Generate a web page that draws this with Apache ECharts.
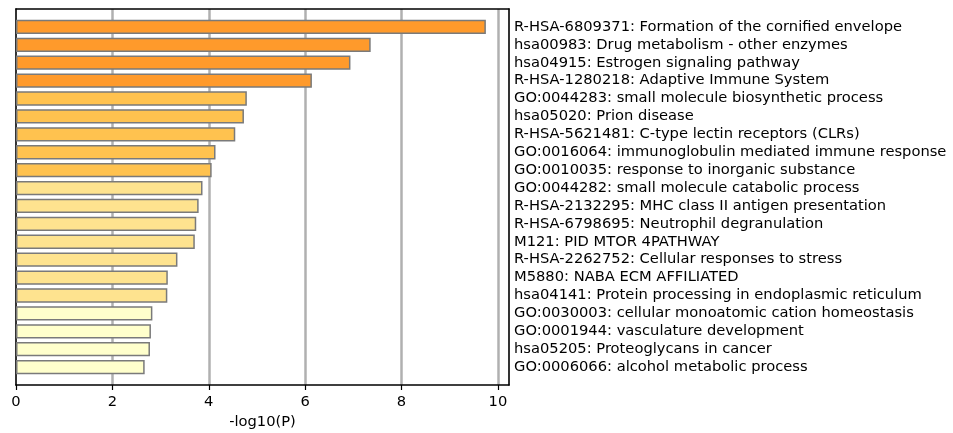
<!DOCTYPE html>
<html>
<head>
<meta charset="utf-8">
<script src="https://cdn.jsdelivr.net/npm/echarts@6/dist/echarts.min.js"></script>
<style>
html,body{margin:0;padding:0;background:#fff;}
#chart{width:953px;height:433px;}
</style>
</head>
<body>
<div id="chart"></div>
<script>
const terms = [
  "R-HSA-6809371: Formation of the cornified envelope",
  "hsa00983: Drug metabolism - other enzymes",
  "hsa04915: Estrogen signaling pathway",
  "R-HSA-1280218: Adaptive Immune System",
  "GO:0044283: small molecule biosynthetic process",
  "hsa05020: Prion disease",
  "R-HSA-5621481: C-type lectin receptors (CLRs)",
  "GO:0016064: immunoglobulin mediated immune response",
  "GO:0010035: response to inorganic substance",
  "GO:0044282: small molecule catabolic process",
  "R-HSA-2132295: MHC class II antigen presentation",
  "R-HSA-6798695: Neutrophil degranulation",
  "M121: PID MTOR 4PATHWAY",
  "R-HSA-2262752: Cellular responses to stress",
  "M5880: NABA ECM AFFILIATED",
  "hsa04141: Protein processing in endoplasmic reticulum",
  "GO:0030003: cellular monoatomic cation homeostasis",
  "GO:0001944: vasculature development",
  "hsa05205: Proteoglycans in cancer",
  "GO:0006066: alcohol metabolic process"
];
const logP = [9.75, 7.36, 6.94, 6.14, 4.79, 4.73, 4.55, 4.14, 4.06, 3.87,
              3.79, 3.74, 3.71, 3.35, 3.15, 3.14, 2.83, 2.80, 2.78, 2.67];
const tier = [0,0,0,0,1,1,1,1,1,2,2,2,2,2,2,2,3,3,3,3];
const xTicks = [0, 2, 4, 6, 8, 10];

const palette = ['#FF9A2B', '#FFC24F', '#FEE38F', '#FFFFCC'];
const FONT = 'DejaVu Sans';
const FS = 14.7;

const chart = echarts.init(document.getElementById('chart'), null, {renderer: 'canvas'});

// pad one empty slot at each end, as the reference leaves one bar-step of space
const cats = [''].concat(terms, ['']);
const barData = ['-'].concat(logP.map((v, i) => ({
  value: v,
  itemStyle: {color: palette[tier[i]]}
})), ['-']);

const yBase = {
  type: 'category', data: cats, boundaryGap: false, inverse: true,
  splitLine: {show: false}, axisTick: {show: false},
  axisLine: {show: true, onZero: false, lineStyle: {color: '#000', width: 1.6}}
};

chart.setOption({
  animation: false,
  backgroundColor: '#fff',
  grid: {left: 16, right: 444, top: 9, bottom: 48, containLabel: false, outerBoundsMode: 'none'},
  xAxis: [{
    type: 'value', min: 0, max: 10.23, interval: 2,
    name: '-log10(P)', nameLocation: 'middle', nameGap: 30,
    nameTextStyle: {fontFamily: FONT, fontSize: FS, color: '#000'},
    axisLine: {show: true, onZero: false, lineStyle: {color: '#000', width: 1.6}},
    axisTick: {show: true, length: 5, lineStyle: {color: '#000', width: 1.2},
      customValues: xTicks},
    axisLabel: {fontFamily: FONT, fontSize: FS, color: '#000', margin: 10,
      customValues: xTicks,
      formatter: v => (xTicks.indexOf(v) >= 0 ? String(v) : '')},
    splitLine: {show: true, showMinLine: false, showMaxLine: true,
      lineStyle: {color: '#b0b0b0', width: 2.5}}
  }, {
    type: 'value', position: 'top', min: 0, max: 10.23,
    axisLine: {show: true, onZero: false, lineStyle: {color: '#000', width: 1.6}},
    axisTick: {show: false}, axisLabel: {show: false}, splitLine: {show: false}
  }],
  yAxis: [
    Object.assign({}, yBase, {position: 'left', axisLabel: {show: false}}),
    Object.assign({}, yBase, {position: 'right',
      axisLabel: {show: true, interval: 0, margin: 5, fontFamily: FONT, fontSize: FS, color: '#000'}})
  ],
  series: [{
    type: 'bar',
    xAxisIndex: 0, yAxisIndex: 0,
    barWidth: 14.3,
    data: barData,
    itemStyle: {borderColor: '#7a7a7a', borderWidth: 1.5},
    silent: true
  }]
});
</script>
</body>
</html>
